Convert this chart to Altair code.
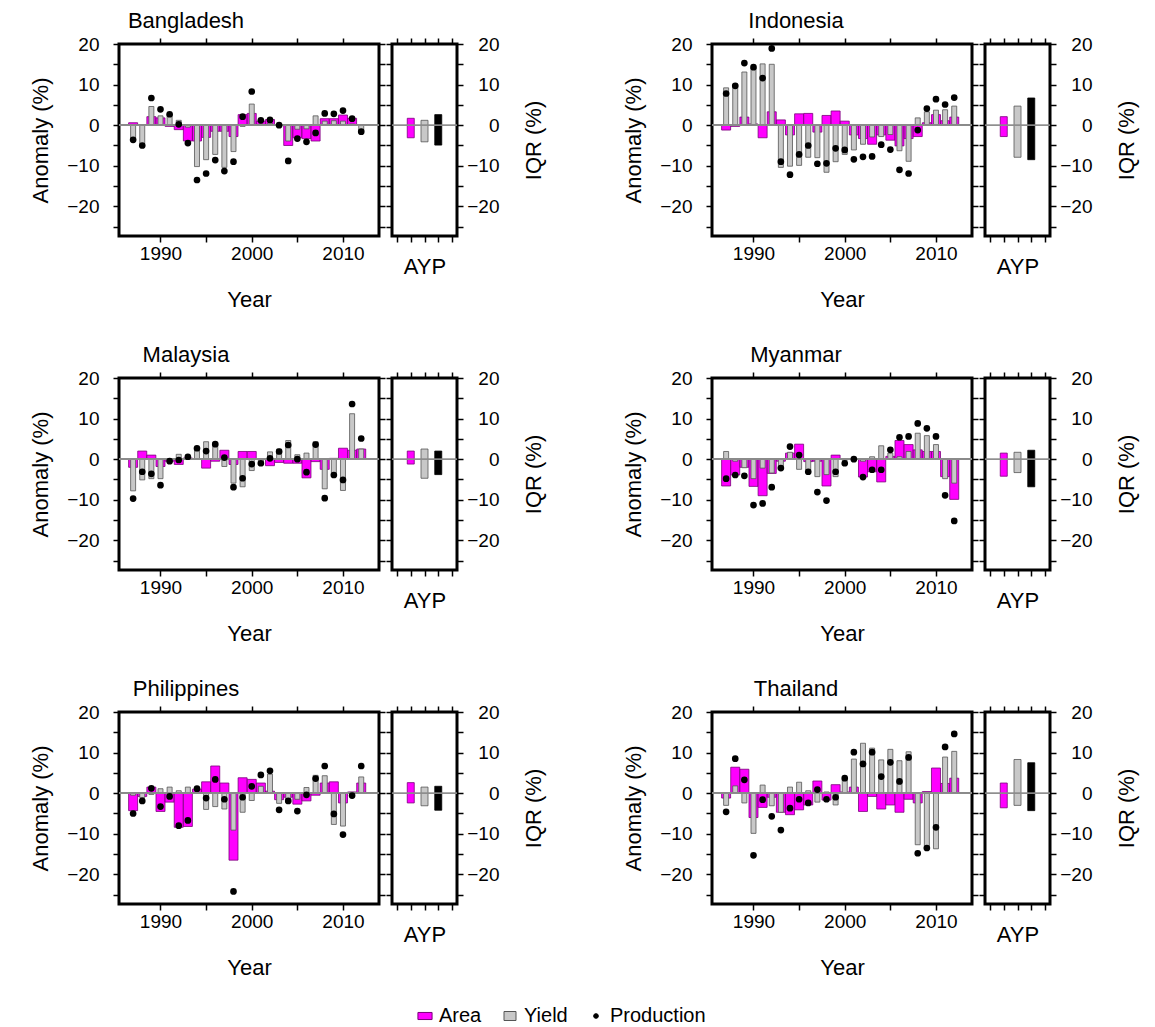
import altair as alt
import pandas as pd

FONT = "Liberation Sans"
MAG = "#FF00FF"
GRAY = "#C8C8C8"

years = list(range(1987, 2013))
series_names = ["Area", "Yield", "Production"]

bgd_area = [0.6, 0.0, 2.1, 1.8, -0.3, -1.1, -3.9, -3.9, -3.0, -1.5, -1.5, -2.8, 2.6, 2.9, 1.0, 1.4, 0.0, -5.0, -3.1, -3.3, -3.9, 1.6, 1.6, 2.5, 1.7, 0.0]
bgd_yield = [-3.7, -4.6, 4.6, 2.3, 2.8, 1.2, -0.5, -10.2, -8.5, -7.2, -10.4, -6.5, -0.3, 5.2, 0.3, 0.5, 0.0, -3.9, -1.0, -0.9, 2.3, 1.0, 1.1, 1.0, 0.3, -1.5]
bgd_prod = [-3.6, -5.0, 6.7, 3.9, 2.7, 0.2, -4.4, -13.5, -11.9, -8.6, -11.3, -9.0, 2.1, 8.3, 1.2, 1.3, 0.0, -8.8, -3.3, -4.1, -1.9, 2.9, 2.8, 3.6, 1.6, -1.6]

idn_area = [-1.2, -0.3, 2.0, 0.3, -3.1, 3.3, 1.3, -2.4, 2.8, 2.9, -1.7, 2.4, 3.5, 1.0, -2.4, -3.3, -4.7, -2.4, -3.7, -5.1, -3.3, -2.8, 0.6, 2.6, 1.1, 2.0]
idn_yield = [9.2, 10.1, 13.1, 14.1, 15.1, 15.0, -10.4, -10.1, -9.9, -7.9, -8.0, -11.6, -9.0, -7.2, -6.1, -4.7, -2.9, -2.8, -2.3, -6.3, -8.9, 1.8, 3.3, 3.7, 3.8, 4.7]
idn_prod = [7.8, 9.7, 15.3, 14.3, 11.6, 18.9, -9.0, -12.2, -7.2, -5.0, -9.5, -9.4, -5.7, -6.1, -8.4, -7.8, -7.7, -4.8, -6.0, -11.0, -11.9, -1.2, 4.1, 6.4, 5.1, 6.8]

mys_area = [-2.0, 2.0, 1.0, -1.8, -0.5, -1.3, 0.3, 0.0, -2.2, -0.5, 2.2, -1.3, 1.9, 1.9, 0.0, -1.6, -0.8, -1.0, -1.0, -4.6, -0.6, -2.5, 0.2, 2.7, 2.2, 2.5]
mys_yield = [-7.8, -5.1, -4.8, -4.8, -0.5, 1.2, 0.5, 2.9, 4.3, 4.1, -1.8, -5.9, -6.8, -2.8, -1.4, 1.8, 2.5, 4.6, 1.1, 1.5, 4.3, -7.3, -3.9, -7.7, 11.2, 2.5]
mys_prod = [-9.7, -3.1, -3.6, -6.4, -0.5, -0.2, 0.6, 2.7, 2.0, 3.7, 0.4, -6.9, -4.7, -1.2, -1.0, 0.2, 1.9, 3.5, 0.0, -3.2, 3.6, -9.6, -3.9, -5.1, 13.6, 5.1]

mmr_area = [-6.6, -3.9, -2.0, -6.7, -9.0, -3.5, -0.5, 1.5, 3.7, -0.6, -0.5, -6.6, 1.0, 0.0, 0.0, -4.4, -3.1, -5.6, 0.7, 4.6, 3.6, 2.3, 1.9, 1.9, -4.3, -9.9]
mmr_yield = [1.9, -0.5, -2.1, -4.8, -2.2, -3.4, -2.3, 1.7, -2.5, -2.7, -4.3, -3.8, -4.3, -0.3, 0.2, -0.5, 0.6, 3.3, 1.5, 0.6, 1.9, 6.4, 5.8, 3.6, -4.8, -5.9]
mmr_prod = [-4.8, -3.9, -4.1, -11.3, -10.9, -6.9, -2.2, 3.1, 1.0, -3.1, -8.1, -10.2, -3.1, -1.0, 0.0, -4.4, -2.6, -2.6, 2.3, 5.4, 5.6, 8.8, 7.6, 5.6, -8.9, -15.2]

phl_area = [-4.3, -0.8, 1.5, -4.5, -2.2, -8.4, -8.2, 1.0, 2.8, 6.7, 2.5, -16.5, 3.8, 3.4, 2.5, 0.5, -1.6, -1.0, -2.7, -1.9, -0.5, 2.5, 2.8, -2.4, 0.3, 2.5]
phl_yield = [-0.5, -1.1, -0.3, 1.1, 1.5, 0.6, 1.5, 0.3, -4.0, -3.3, -3.9, -9.1, -4.7, -1.8, 1.7, 4.7, -2.5, -2.2, -1.5, 1.4, 4.4, 4.3, -7.7, -8.1, 0.2, 4.0]
phl_prod = [-5.0, -1.9, 1.2, -3.3, -0.8, -8.0, -6.7, 1.1, -1.2, 3.4, -1.5, -24.2, -1.0, 1.7, 4.5, 5.5, -4.1, -1.9, -4.4, -0.4, 3.6, 6.7, -5.1, -10.2, -0.6, 6.7]

tha_area = [-1.2, 6.4, 5.9, -6.0, -3.5, -1.0, -4.7, -5.3, -4.1, -2.9, 3.0, -1.7, 2.1, 0.3, 1.5, -4.5, -0.8, -3.9, -2.9, -4.7, -1.5, -2.4, 0.4, 6.2, 2.4, 3.7]
tha_yield = [-3.0, 1.8, -2.4, -9.9, 2.0, -3.1, -4.7, 1.5, 2.7, 0.6, -2.2, 0.3, -2.9, 3.3, 8.4, 12.3, 11.1, 8.2, 10.8, 8.0, 10.2, -12.7, -13.7, -13.7, 8.9, 10.3]
tha_prod = [-4.6, 8.5, 3.3, -15.3, -1.6, -5.7, -9.1, -3.7, -1.5, -2.4, 0.9, -1.5, -1.0, 3.7, 10.1, 7.2, 10.1, 4.1, 7.6, 2.9, 8.8, -14.8, -13.5, -8.4, 11.4, 14.6]

# IQR (lower, upper) for A, Y, P
iqr_labels = ["A", "Y", "P"]
bgd_iqr_lo = [-3.1, -4.1, -4.9]; bgd_iqr_hi = [1.7, 1.2, 2.6]
idn_iqr_lo = [-2.8, -7.9, -8.5]; idn_iqr_hi = [2.1, 4.7, 6.7]
mys_iqr_lo = [-1.2, -4.7, -3.8]; mys_iqr_hi = [2.0, 2.5, 2.0]
mmr_iqr_lo = [-4.2, -3.3, -6.8]; mmr_iqr_hi = [1.5, 1.7, 2.2]
phl_iqr_lo = [-2.4, -3.1, -4.2]; phl_iqr_hi = [2.6, 1.5, 1.7]
tha_iqr_lo = [-3.6, -3.0, -4.3]; tha_iqr_hi = [2.5, 8.3, 7.5]

YDOM = [-27.3, 20]
YVALS = [-25, -20, -15, -10, -5, 0, 5, 10, 15, 20]
XVALS = [1990, 1995, 2000, 2005, 2010]
LAB10 = "datum.value % 10 === 0 ? datum.label : ''"

cscale = alt.Scale(domain=series_names, range=[MAG, GRAY, "black"])
sscale = alt.Scale(domain=series_names, range=["#7a007a", "#555555", "black"])
shscale = alt.Scale(domain=series_names,
                    range=["M-1,-0.5H1V0.5H-1Z", "M-1,-0.75H1V0.75H-1Z", "circle"])
szscale = alt.Scale(type="ordinal", domain=series_names, range=[200, 144, 22])
LEG = alt.Legend(orient="none", legendX=296, legendY=962, direction="horizontal",
                 title=None, labelFontSize=20, labelFont=FONT, columnPadding=18,
                 symbolStrokeWidth=1, labelColor="black", labelOffset=4)


def main_chart(name, area, yld, prod, title_dx):
    df = pd.DataFrame({"year": years, "area": area, "yld": yld, "prod": prod})
    xs = alt.Scale(domain=[1986, 2013.4], nice=False, zero=False)
    ys = alt.Scale(domain=YDOM, nice=False, zero=False)
    base = alt.Chart(df)
    area_l = base.transform_calculate(series="'Area'").mark_bar(size=9, strokeWidth=0.8).encode(
        x=alt.X("year:Q", scale=xs, axis=alt.Axis(orient="bottom", values=XVALS, format="d",
                                                  labelExpr=LAB10, title="Year", labelPadding=2,
                                                  titlePadding=26)),
        y=alt.Y("area:Q", scale=ys, axis=alt.Axis(orient="left", values=YVALS, labelExpr=LAB10,
                                                  title="Anomaly (%)", labelPadding=14,
                                                  titlePadding=14)),
        color=alt.Color("series:N", scale=cscale, legend=LEG),
        stroke=alt.Stroke("series:N", scale=sscale, legend=LEG),
    )
    yld_l = base.transform_calculate(series="'Yield'").mark_bar(size=5, strokeWidth=0.8).encode(
        x=alt.X("year:Q", scale=xs, axis=None),
        y=alt.Y("yld:Q", scale=ys, axis=None),
        color=alt.Color("series:N", scale=cscale, legend=LEG),
        stroke=alt.Stroke("series:N", scale=sscale, legend=LEG),
    )
    zero = base.mark_rule(color="#8c8c8c", strokeWidth=1).encode(
        y=alt.YDatum(0, type="quantitative", scale=ys, axis=None)
    )
    prod_l = base.transform_calculate(series="'Production'").mark_point(filled=True, opacity=1).encode(
        x=alt.X("year:Q", scale=xs, axis=None),
        y=alt.Y("prod:Q", scale=ys, axis=None),
        color=alt.Color("series:N", scale=cscale, legend=LEG),
        stroke=alt.Stroke("series:N", scale=sscale, legend=LEG),
        shape=alt.Shape("series:N", scale=shscale, legend=LEG),
        size=alt.Size("series:N", scale=szscale, legend=LEG),
    )
    ticks = base.mark_point(opacity=0).encode(
        x=alt.X("year:Q", scale=xs, axis=alt.Axis(orient="top", values=XVALS, labels=False, title=None)),
        y=alt.Y("prod:Q", scale=ys, axis=alt.Axis(orient="right", values=YVALS, labels=False, title=None)),
    )
    return alt.layer(area_l, yld_l, zero, prod_l, ticks).resolve_axis(
        x="independent", y="independent"
    ).properties(
        width=260, height=192,
        title=alt.TitleParams(name, dx=title_dx, fontSize=22, font=FONT, fontWeight="normal", offset=2),
    )


def iqr_chart(lo, hi):
    df = pd.DataFrame({"pos": [1, 2, 3], "k": iqr_labels, "lo": lo, "hi": hi,
                       "f": [MAG, GRAY, "black"], "s": ["#7a007a", "#555555", "black"]})
    xs = alt.Scale(domain=[0, 4], nice=False, zero=False)
    ys = alt.Scale(domain=YDOM, nice=False, zero=False)
    base = alt.Chart(df)
    bars = base.mark_bar(size=7, strokeWidth=0.8).encode(
        x=alt.X("pos:Q", scale=xs, axis=alt.Axis(orient="bottom", values=[0, 1, 2, 3, 4], labels=False,
                                                 title="AYP", titlePadding=14, titleFontSize=22)),
        y=alt.Y("lo:Q", scale=ys, axis=alt.Axis(orient="right", values=YVALS, labelExpr=LAB10,
                                                title="IQR (%)", labelAlign="right", labelPadding=36,
                                                titleAngle=270, titleBaseline="top", titlePadding=24)),
        y2="hi:Q",
        fill=alt.Fill("f:N", scale=None),
        stroke=alt.Stroke("s:N", scale=None),
    )
    zero = base.mark_rule(color="#8c8c8c", strokeWidth=1).encode(
        y=alt.YDatum(0, type="quantitative", scale=ys, axis=None)
    )
    ticks = base.mark_point(opacity=0).encode(
        x=alt.X("pos:Q", scale=xs, axis=alt.Axis(orient="top", values=[0, 1, 2, 3, 4], labels=False, title=None)),
        y=alt.Y("hi:Q", scale=ys, axis=alt.Axis(orient="left", values=YVALS, labels=False, title=None)),
    )
    return alt.layer(bars, zero, ticks).resolve_axis(x="independent", y="independent").properties(
        width=65, height=192
    )


def group(name, area, yld, prod, lo, hi, dx):
    return alt.hconcat(main_chart(name, area, yld, prod, dx), iqr_chart(lo, hi), spacing=-5)


LDX = -63
RDX = -46
row1 = alt.hconcat(group("Bangladesh", bgd_area, bgd_yield, bgd_prod, bgd_iqr_lo, bgd_iqr_hi, LDX),
                   group("Indonesia", idn_area, idn_yield, idn_prod, idn_iqr_lo, idn_iqr_hi, RDX), spacing=75)
row2 = alt.hconcat(group("Malaysia", mys_area, mys_yield, mys_prod, mys_iqr_lo, mys_iqr_hi, LDX),
                   group("Myanmar", mmr_area, mmr_yield, mmr_prod, mmr_iqr_lo, mmr_iqr_hi, RDX), spacing=75)
row3 = alt.hconcat(group("Philippines", phl_area, phl_yield, phl_prod, phl_iqr_lo, phl_iqr_hi, LDX),
                   group("Thailand", tha_area, tha_yield, tha_prod, tha_iqr_lo, tha_iqr_hi, RDX), spacing=75)

chart = alt.vconcat(row1, row2, row3, spacing=30).properties(
    padding={"left": 20, "top": 0, "right": 5, "bottom": 5}
).configure_view(
    stroke="black", strokeWidth=3
).configure_axis(
    labelFont=FONT, titleFont=FONT, labelFontSize=19, titleFontSize=22, titleFontWeight="normal",
    tickColor="black", tickWidth=1.5, tickSize=6, domain=False, grid=False,
    labelColor="black", titleColor="black"
).configure_title(
    font=FONT, fontSize=22, fontWeight="normal", anchor="middle", color="black"
)

chart.save("out.html", embed_options={"renderer": "svg", "actions": False})
